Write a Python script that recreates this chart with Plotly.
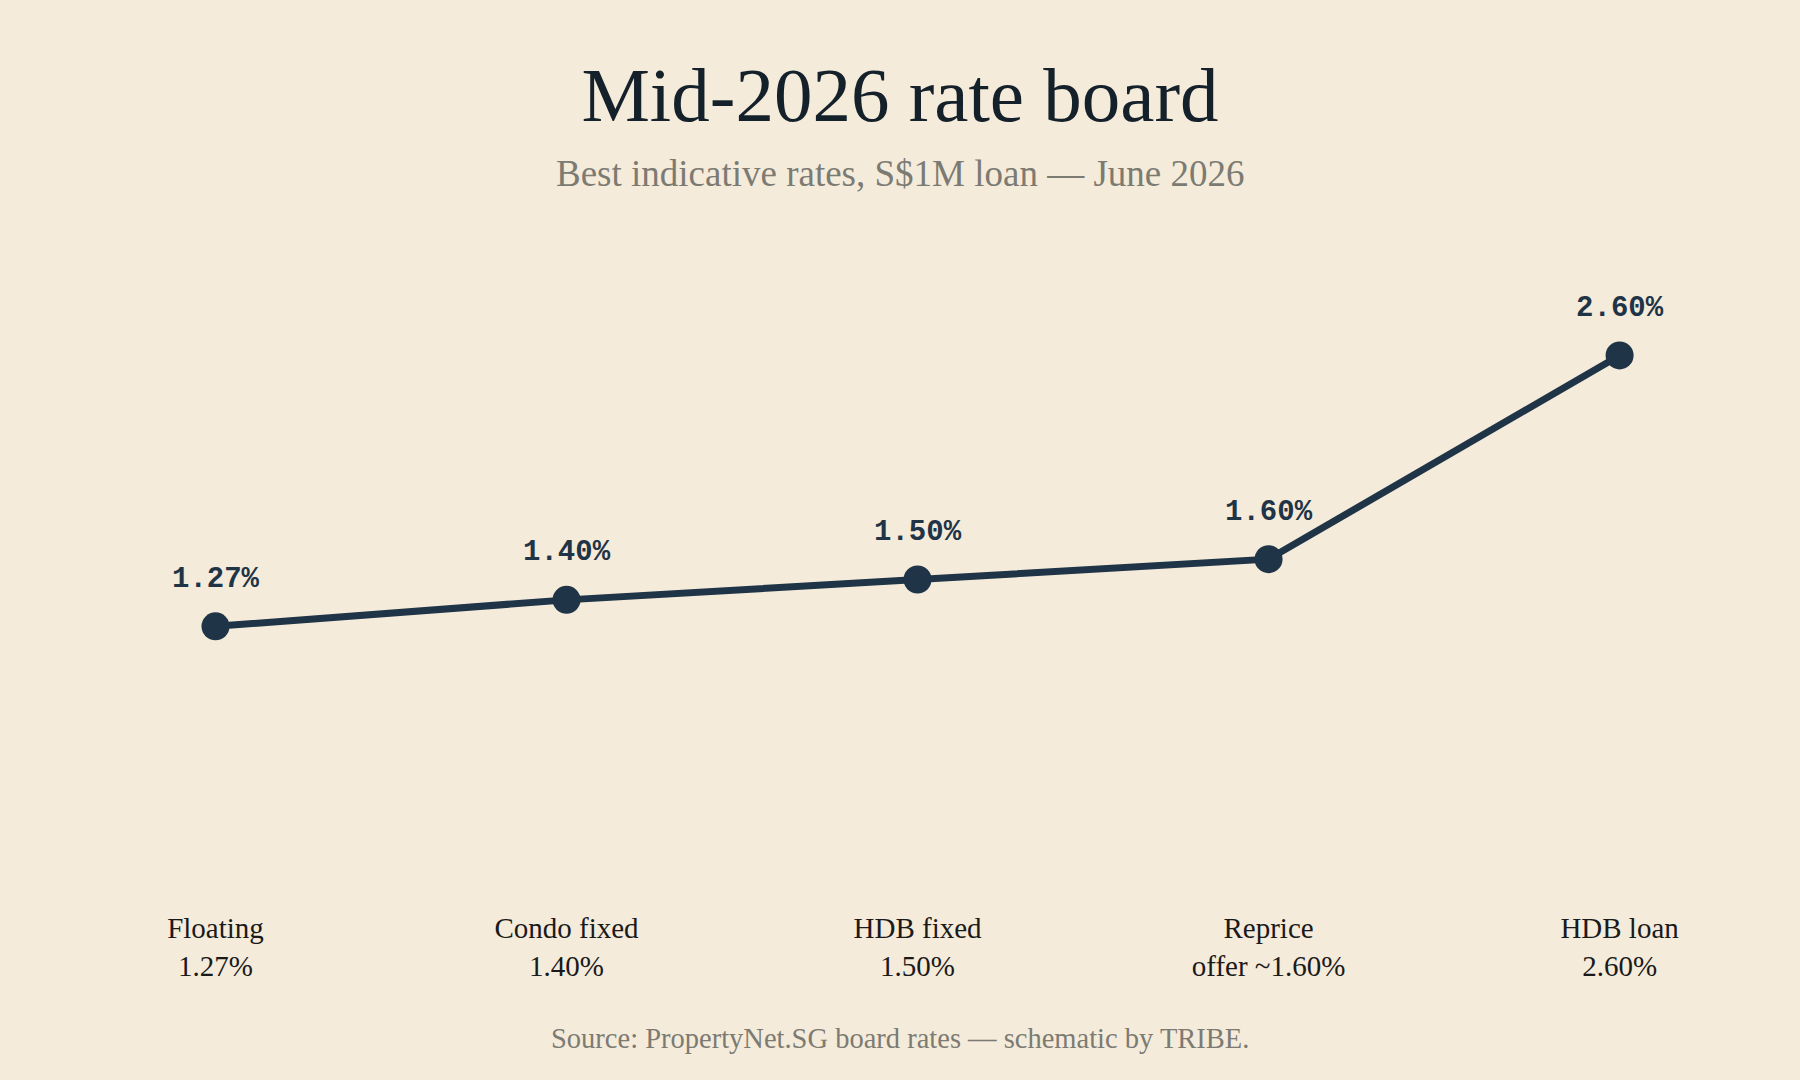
import plotly.graph_objects as go

categories = ["Floating", "Condo fixed", "HDB fixed", "Reprice", "HDB loan"]
tick_labels = ["Floating<br>1.27%", "Condo fixed<br>1.40%", "HDB fixed<br>1.50%",
               "Reprice<br>offer ~1.60%", "HDB loan<br>2.60%"]
rates = [1.27, 1.40, 1.50, 1.60, 2.60]
point_labels = ["1.27%", "1.40%", "1.50%", "1.60%", "2.60%"]

BG = "#f5ebda"
NAVY = "#1f3447"
SERIF = "Liberation Serif, DejaVu Serif, serif"
MONO = "Liberation Mono, DejaVu Sans Mono, monospace"

x_idx = list(range(len(categories)))

fig = go.Figure()
fig.add_trace(go.Scatter(
    x=x_idx,
    y=rates,
    mode="lines+markers",
    line=dict(color=NAVY, width=7),
    marker=dict(color=NAVY, size=28, symbol="circle"),
    hoverinfo="skip",
    cliponaxis=False,
))
# value labels (invisible larger marker sets the label offset)
fig.add_trace(go.Scatter(
    x=x_idx,
    y=rates,
    mode="markers+text",
    marker=dict(color=NAVY, size=50, opacity=0),
    text=point_labels,
    textposition="top center",
    textfont=dict(family=MONO, size=29, color=NAVY, weight="bold"),
    hoverinfo="skip",
    cliponaxis=False,
))

fig.update_layout(
    width=1800, height=1080,
    paper_bgcolor=BG, plot_bgcolor=BG,
    margin=dict(l=40, r=40, t=274, b=195),
    showlegend=False,
    title=dict(
        text="Mid-2026 rate board",
        x=0.5, xanchor="center", y=1 - 94 / 1080, yanchor="middle",
        font=dict(family=SERIF, size=77, color="#14202a"),
    ),
    annotations=[
        dict(text="Best indicative rates, S$1M loan — June 2026",
             xref="paper", yref="paper", x=0.5,
             y=(1080 - 195 - 173) / (1080 - 274 - 195), yanchor="middle",
             showarrow=False, xanchor="center",
             font=dict(family=SERIF, size=37, color="#7c7b73")),
        dict(text="Source: PropertyNet.SG board rates — schematic by TRIBE.",
             xref="paper", yref="paper", x=0.5,
             y=(1080 - 195 - 1038) / (1080 - 274 - 195), yanchor="middle",
             showarrow=False, xanchor="center",
             font=dict(family=SERIF, size=28.5, color="#7c7b73")),
    ],
    xaxis=dict(
        range=[-0.5, 4.4],
        tickmode="array",
        tickvals=x_idx,
        ticktext=tick_labels,
        showgrid=False, zeroline=False, showline=False, ticks="",
        tickfont=dict(family=SERIF, size=29, color="#1a1a1a"),
        ticklabelstandoff=23,
    ),
    yaxis=dict(
        range=[0, 3.0],
        showgrid=False, zeroline=False, showline=False,
        showticklabels=False, ticks="",
    ),
)

fig.write_html("out.html")
